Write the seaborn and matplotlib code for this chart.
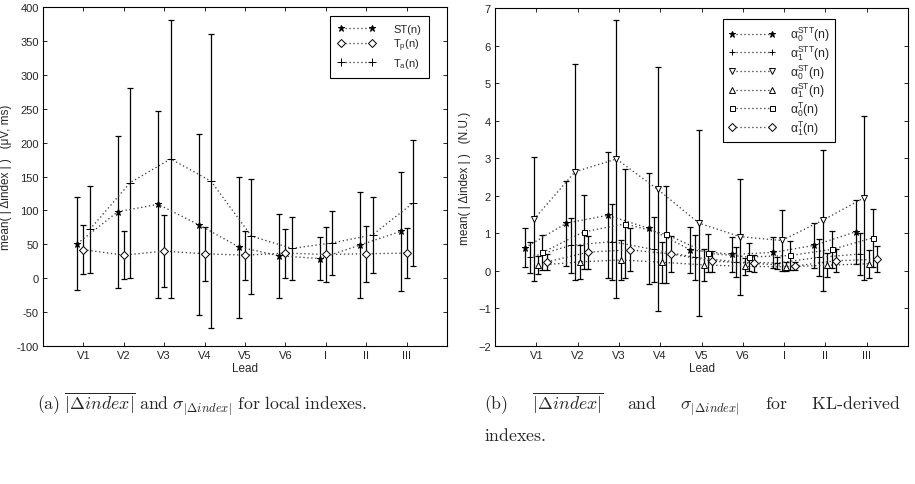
import numpy as np
import pandas as pd
import matplotlib
matplotlib.use("Agg")
import matplotlib.pyplot as plt
import seaborn as sns

# ---------------- data ----------------
leads = ["V1", "V2", "V3", "V4", "V5", "V6", "I", "II", "III"]

# (a) local indexes: mean and std of |delta index|
st_mean = [51, 98, 109, 79, 46, 33, 29, 49, 69]
st_std = [68.5, 112, 138, 133.5, 104, 62, 32, 78, 88]
tp_mean = [42, 34, 40, 36, 34, 37, 35, 36, 37]
tp_std = [36, 35, 53, 40, 36, 36, 40.5, 41, 36.5]
ta_mean = [72, 141, 176, 143, 62, 44, 52, 64, 111]
ta_std = [64, 140, 205, 217, 85, 46.5, 47, 56, 93]

# (b) KL-derived indexes
a0stt_mean = [0.62, 1.27, 1.48, 1.13, 0.56, 0.44, 0.49, 0.68, 1.04]
a0stt_std = [0.52, 1.13, 1.68, 1.47, 0.62, 0.47, 0.42, 0.60, 0.86]
a1stt_mean = [0.36, 0.68, 0.78, 0.57, 0.36, 0.24, 0.21, 0.36, 0.45]
a1stt_std = [0.41, 0.74, 1.01, 0.86, 0.60, 0.40, 0.17, 0.50, 0.56]
a0st_mean = [1.37, 2.64, 2.98, 2.17, 1.27, 0.91, 0.81, 1.35, 1.95]
a0st_std = [1.65, 2.88, 3.70, 3.25, 2.47, 1.55, 0.80, 1.88, 2.18]
a1st_mean = [0.15, 0.24, 0.29, 0.23, 0.16, 0.12, 0.11, 0.15, 0.19]
a1st_std = [0.24, 0.46, 0.53, 0.54, 0.42, 0.22, 0.12, 0.32, 0.37]
a0t_mean = [0.49, 1.04, 1.25, 0.97, 0.47, 0.37, 0.41, 0.57, 0.88]
a0t_std = [0.47, 0.98, 1.45, 1.30, 0.51, 0.37, 0.39, 0.49, 0.78]
a1t_mean = [0.24, 0.50, 0.56, 0.45, 0.26, 0.20, 0.13, 0.27, 0.31]
a1t_std = [0.22, 0.44, 0.57, 0.47, 0.28, 0.22, 0.11, 0.30, 0.35]

left_labels = ["ST(n)", r"T$_\mathrm{p}$(n)", r"T$_\mathrm{a}$(n)"]
right_labels = [r"α$_\mathrm{0}^\mathrm{STT}$(n)", r"α$_\mathrm{1}^\mathrm{STT}$(n)",
                r"α$_\mathrm{0}^\mathrm{ST}$(n)", r"α$_\mathrm{1}^\mathrm{ST}$(n)",
                r"α$_\mathrm{0}^\mathrm{T}$(n)", r"α$_\mathrm{1}^\mathrm{T}$(n)"]

left_yticks = [-100, -50, 0, 50, 100, 150, 200, 250, 300, 350, 400]
right_yticks = [-2, -1, 0, 1, 2, 3, 4, 5, 6, 7]

# ---------------- style ----------------
sns.set_theme(style="ticks")
plt.rcParams.update({
    "font.size": 8,
    "axes.labelsize": 8.5,
    "legend.fontsize": 8,
    "axes.linewidth": 0.8,
    "axes.edgecolor": "black",
    "xtick.direction": "in",
    "ytick.direction": "in",
    "xtick.major.size": 3,
    "ytick.major.size": 3,
    "xtick.major.width": 0.7,
    "ytick.major.width": 0.7,
    "xtick.top": True,
    "ytick.right": True,
    "xtick.labelsize": 8,
    "ytick.labelsize": 8,
    "mathtext.fontset": "custom",
    "mathtext.rm": "Liberation Sans",
    "mathtext.it": "Liberation Sans:italic",
    "mathtext.bf": "Liberation Sans:bold",
    "mathtext.default": "it",
})
plt.rcParams["font.family"] = ["Liberation Sans", "DejaVu Sans"]

fig = plt.figure(figsize=(9.15, 4.85), dpi=100)
W, H = 915, 485
axL = fig.add_axes([43 / W, 1 - 347 / H, 404 / W, 339 / H])
axR = fig.add_axes([495 / W, 1 - 347 / H, 413 / W, 338 / H])


def draw(ax, means, stds, markers, labels, offsets, msizes, filled):
    base = np.arange(1, len(leads) + 1)
    for m, s, mk, lab, off, ms, fl in zip(means, stds, markers, labels, offsets, msizes, filled):
        x = base + off
        df = pd.DataFrame({"x": x, "y": m})
        ax.errorbar(x, m, yerr=s, fmt="none", ecolor="black", elinewidth=0.9,
                    capsize=2.4, capthick=0.9, zorder=2)
        sns.lineplot(data=df, x="x", y="y", ax=ax, sort=False, estimator=None,
                     color="0.25", linestyle=(0, (1, 2.0)), linewidth=0.95,
                     marker=mk, markersize=ms,
                     markerfacecolor=("black" if fl else "white"),
                     markeredgecolor="black", markeredgewidth=0.7,
                     label=lab, zorder=3)
    ax.set_xlim(0, 10)
    ax.set_xticks(base)
    ax.set_xticklabels(leads)
    ax.set_xlabel("Lead", labelpad=1)
    ax.tick_params(axis="both", pad=3)
    for sp in ax.spines.values():
        sp.set_visible(True)
        sp.set_color("black")


draw(axL, [st_mean, tp_mean, ta_mean], [st_std, tp_std, ta_std],
     ["*", "D", "+"], left_labels, [-0.15, 0.0, 0.16], [5, 3.8, 5.5],
     [True, False, False])
axL.set_ylim(-100, 400)
axL.set_yticks(left_yticks)
axL.set_yticklabels([str(v) for v in left_yticks])
axL.set_ylabel("mean( | Δindex | )   (μV, ms)", labelpad=3)
legL = axL.legend(loc="upper left", bbox_to_anchor=(0.71, 0.973), numpoints=2,
                  handlelength=3.4, frameon=True, fancybox=False,
                  edgecolor="black", framealpha=1, borderpad=0.7,
                  labelspacing=0.25, handletextpad=1.6, borderaxespad=0)
legL.get_frame().set_linewidth(0.8)

offs = [-0.27, -0.16, -0.06, 0.05, 0.15, 0.26]
draw(axR, [a0stt_mean, a1stt_mean, a0st_mean, a1st_mean, a0t_mean, a1t_mean],
     [a0stt_std, a1stt_std, a0st_std, a1st_std, a0t_std, a1t_std],
     ["*", "+", "v", "^", "s", "D"], right_labels, offs,
     [4.5, 5, 4.2, 4.2, 3.6, 3.6], [True, False, False, False, False, False])
axR.set_ylim(-2, 7)
axR.set_yticks(right_yticks)
axR.set_yticklabels([str(v).replace("-", "\u2212") for v in right_yticks])
axR.set_ylabel("mean( | Δindex | )   (N.U.)", labelpad=5)
legR = axR.legend(loc="upper left", bbox_to_anchor=(0.552, 0.967), numpoints=2,
                  handlelength=3.9, frameon=True, fancybox=False,
                  edgecolor="black", framealpha=1, borderpad=0.45,
                  labelspacing=0.0, handletextpad=1.1, borderaxespad=0,
                  fontsize=8.8)
legR.get_frame().set_linewidth(0.8)

# ---------------- captions ----------------
cap_kw = dict(fontsize=12.8, math_fontfamily="cm", va="center", ha="left")
gap = r"\quad\ \;"
fig.text(37 / W, 1 - 404 / H,
         r"$\mathrm{(a)}\ \overline{|\Delta index|}\ \mathrm{and}\ \sigma_{|\Delta index|}\ \mathrm{for\ local\ indexes.}$",
         **cap_kw)
fig.text(484 / W, 1 - 404 / H,
         r"$\mathrm{(b)}" + gap + r"\overline{|\Delta index|}" + gap + r"\mathrm{and}" + gap
         + r"\sigma_{|\Delta index|}" + gap + r"\mathrm{for}" + gap + r"\mathrm{KL\text{-}derived}$",
         **cap_kw)
fig.text(484 / W, 1 - 437 / H, r"$\mathrm{indexes.}$", **cap_kw)

fig.savefig("out.png", dpi=100)
